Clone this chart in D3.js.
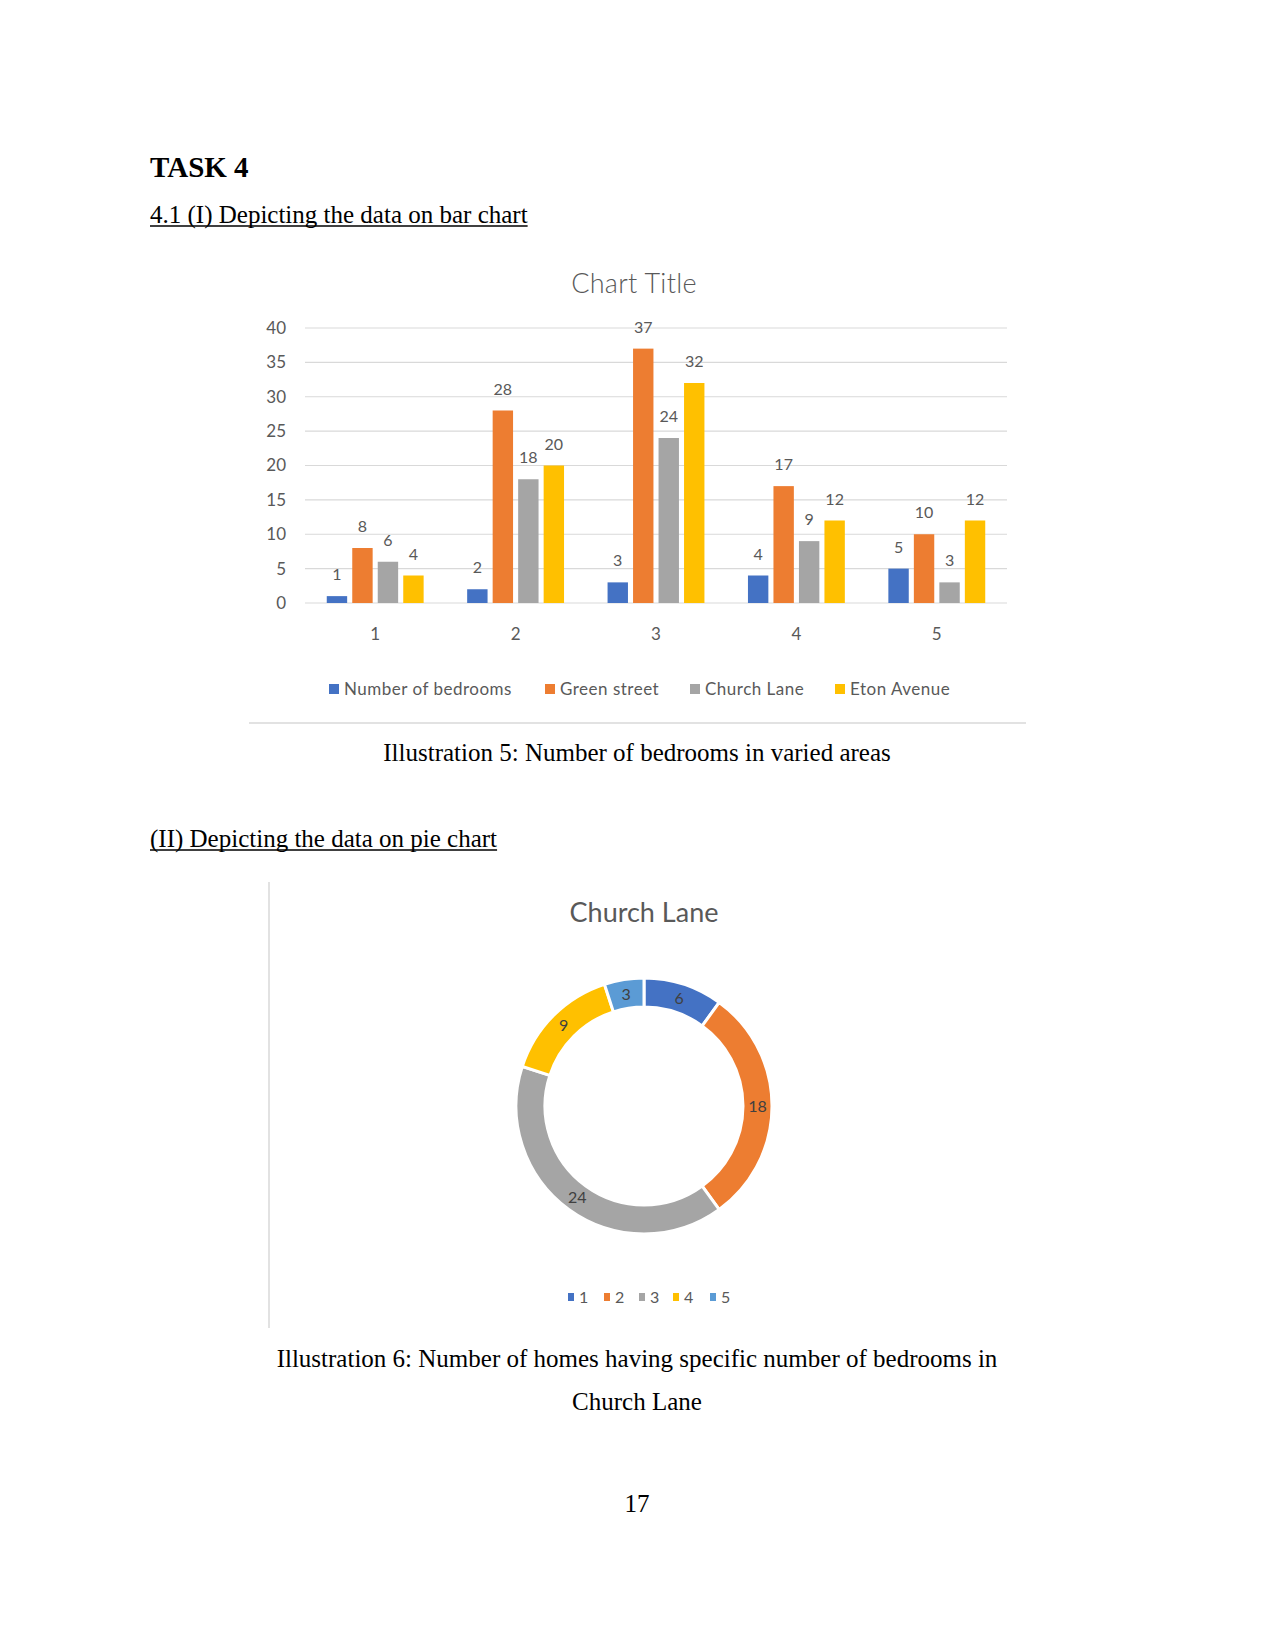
<!DOCTYPE html>
<html>
<head>
<meta charset="utf-8">
<script src="https://cdn.jsdelivr.net/npm/d3@7"></script>
<style>
  html, body { margin: 0; padding: 0; background: #fff; }
  svg { display: block; }
</style>
</head>
<body>
<svg id="page" width="1275" height="1650"></svg>
<script>
// ---------------- DATA ----------------
const categories = ["1", "2", "3", "4", "5"];
const seriesNames = ["Number of bedrooms", "Green street", "Church Lane", "Eton Avenue"];
const numberOfBedrooms = [1, 2, 3, 4, 5];
const greenStreet = [8, 28, 37, 17, 10];
const churchLane = [6, 18, 24, 9, 3];
const etonAvenue = [4, 20, 32, 12, 12];
const yTicks = [0, 5, 10, 15, 20, 25, 30, 35, 40];
const seriesColors = ["#4472C4", "#ED7D31", "#A5A5A5", "#FFC000"];

const pieLabels = ["1", "2", "3", "4", "5"];
const pieValues = [6, 18, 24, 9, 3];
const pieColors = ["#4472C4", "#ED7D31", "#A5A5A5", "#FFC000", "#5B9BD5"];

const seriesValues = [numberOfBedrooms, greenStreet, churchLane, etonAvenue];

(function () {
// ---------------- PAGE ----------------
const svg = d3.select("#page");
svg.append("rect").attr("width", 1275).attr("height", 1650).attr("fill", "#fff");

const serif = "'Liberation Serif', 'Times New Roman', serif";
const sans = "Lato, 'Open Sans', sans-serif";

function underlined(x, yy, txt, size) {
  const t = svg.append("text").attr("x", x).attr("y", yy)
    .attr("font-family", serif).attr("font-size", size).attr("fill", "#000").text(txt);
  const w = t.node().getComputedTextLength();
  svg.append("line").attr("x1", x).attr("x2", x + w).attr("y1", yy + 3).attr("y2", yy + 3)
    .attr("stroke", "#000").attr("stroke-width", 1.3);
}

svg.append("text").attr("x", 150).attr("y", 177)
  .attr("font-family", serif).attr("font-weight", "bold").attr("font-size", 29)
  .attr("fill", "#000").text("TASK 4");

underlined(150, 223, "4.1 (I) Depicting the data on bar chart", 25);

// ---------------- BAR CHART ----------------
const pLeft = 305, pRight = 1007, pTop = 328, pBottom = 603;
const y = d3.scaleLinear().domain([0, 40]).range([pBottom, pTop]);
const x0 = d3.scaleBand().domain(categories).range([pLeft, pRight]).paddingInner(0.31).paddingOuter(0.155);
const x1 = d3.scaleBand().domain(seriesNames).range([0, x0.bandwidth()]).paddingInner(0.2);

const bar = svg.append("g");

bar.append("text").attr("x", 634).attr("y", 293).attr("text-anchor", "middle")
  .attr("font-family", sans).attr("font-weight", 300).attr("font-size", 27)
  .attr("letter-spacing", 0.3)
  .attr("fill", "#595959").text("Chart Title");

bar.append("g").selectAll("line").data(yTicks).join("line")
  .attr("x1", pLeft).attr("x2", pRight)
  .attr("y1", d => y(d)).attr("y2", d => y(d))
  .attr("stroke", "#d9d9d9").attr("stroke-width", 1.2);

const yAxis = d3.axisLeft(y).tickValues(yTicks).tickSize(0).tickPadding(0);
const yg = bar.append("g").attr("transform", `translate(${pLeft - 19},0)`).call(yAxis);
yg.select(".domain").remove();
yg.selectAll("text").attr("font-family", sans).attr("font-size", 17).attr("fill", "#595959");

const xAxis = d3.axisBottom(x0).tickSize(0).tickPadding(0);
const xg = bar.append("g").attr("transform", `translate(0,${pBottom + 25})`).call(xAxis);
xg.select(".domain").remove();
xg.selectAll("text").attr("font-family", sans).attr("font-size", 17).attr("fill", "#595959");

const groups = bar.append("g").selectAll("g").data(categories).join("g")
  .attr("transform", d => `translate(${x0(d)},0)`);

groups.each(function (cat, ci) {
  const g = d3.select(this);
  const rows = seriesNames.map((s, si) => ({ s, si, v: seriesValues[si][ci] }));
  g.selectAll("rect").data(rows).join("rect")
    .attr("x", d => x1(d.s)).attr("width", x1.bandwidth())
    .attr("y", d => y(d.v)).attr("height", d => y(0) - y(d.v))
    .attr("fill", d => seriesColors[d.si]);
  g.selectAll("text").data(rows).join("text")
    .attr("x", d => x1(d.s) + x1.bandwidth() / 2)
    .attr("y", d => y(d.v) - 16)
    .attr("text-anchor", "middle")
    .attr("font-family", sans).attr("font-size", 16).attr("fill", "#595959")
    .text(d => d.v);
});

const legendX = [329, 545, 690, 835];
const lg = bar.append("g").selectAll("g").data(seriesNames).join("g")
  .attr("transform", (d, i) => `translate(${legendX[i]},689)`);
lg.append("rect").attr("x", 0).attr("y", -5).attr("width", 10).attr("height", 10)
  .attr("fill", (d, i) => seriesColors[i]);
lg.append("text").attr("x", 15).attr("y", 6)
  .attr("font-family", sans).attr("font-size", 17).attr("letter-spacing", 0.5)
  .attr("fill", "#595959").text(d => d);

svg.append("line").attr("x1", 249).attr("x2", 1026).attr("y1", 723).attr("y2", 723)
  .attr("stroke", "#d9d9d9").attr("stroke-width", 1.5);

svg.append("text").attr("x", 637).attr("y", 761).attr("text-anchor", "middle")
  .attr("font-family", serif).attr("font-size", 25).attr("fill", "#000")
  .text("Illustration 5: Number of bedrooms in varied areas");

underlined(150, 847, "(II) Depicting the data on pie chart", 25);

// ---------------- DONUT CHART ----------------
svg.append("line").attr("x1", 269).attr("x2", 269).attr("y1", 882).attr("y2", 1328)
  .attr("stroke", "#d9d9d9").attr("stroke-width", 1.5);

svg.append("text").attr("x", 644).attr("y", 922).attr("text-anchor", "middle")
  .attr("font-family", sans).attr("font-size", 27).attr("fill", "#595959")
  .text("Church Lane");

const cx = 644, cy = 1106, rOuter = 128, rInner = 99;
const pie = d3.pie().sort(null).value(d => d);
const arc = d3.arc().innerRadius(rInner).outerRadius(rOuter);
const arcs = pie(pieValues);
const donut = svg.append("g").attr("transform", `translate(${cx},${cy})`);
donut.selectAll("path").data(arcs).join("path")
  .attr("d", arc).attr("fill", (d, i) => pieColors[i])
  .attr("stroke", "#fff").attr("stroke-width", 3);
donut.selectAll("text").data(arcs).join("text")
  .attr("transform", d => `translate(${arc.centroid(d)})`)
  .attr("text-anchor", "middle").attr("dy", "0.35em")
  .attr("font-family", sans).attr("font-size", 16).attr("fill", "#404040")
  .text(d => d.data);

const pLegX = [568, 604, 639, 673, 710];
const pl = svg.append("g").selectAll("g").data(pieLabels).join("g")
  .attr("transform", (d, i) => `translate(${pLegX[i]},1297)`);
pl.append("rect").attr("x", 0).attr("y", -4).attr("width", 6).attr("height", 8)
  .attr("fill", (d, i) => pieColors[i]);
pl.append("text").attr("x", 11).attr("y", 6)
  .attr("font-family", sans).attr("font-size", 16).attr("fill", "#595959").text(d => d);

svg.append("text").attr("x", 637).attr("y", 1367).attr("text-anchor", "middle")
  .attr("font-family", serif).attr("font-size", 25).attr("fill", "#000")
  .text("Illustration 6: Number of homes having specific number of bedrooms in");
svg.append("text").attr("x", 637).attr("y", 1410).attr("text-anchor", "middle")
  .attr("font-family", serif).attr("font-size", 25).attr("fill", "#000")
  .text("Church Lane");

svg.append("text").attr("x", 637).attr("y", 1512).attr("text-anchor", "middle")
  .attr("font-family", serif).attr("font-size", 25).attr("fill", "#000")
  .text("17");
})();
</script>
</body>
</html>
